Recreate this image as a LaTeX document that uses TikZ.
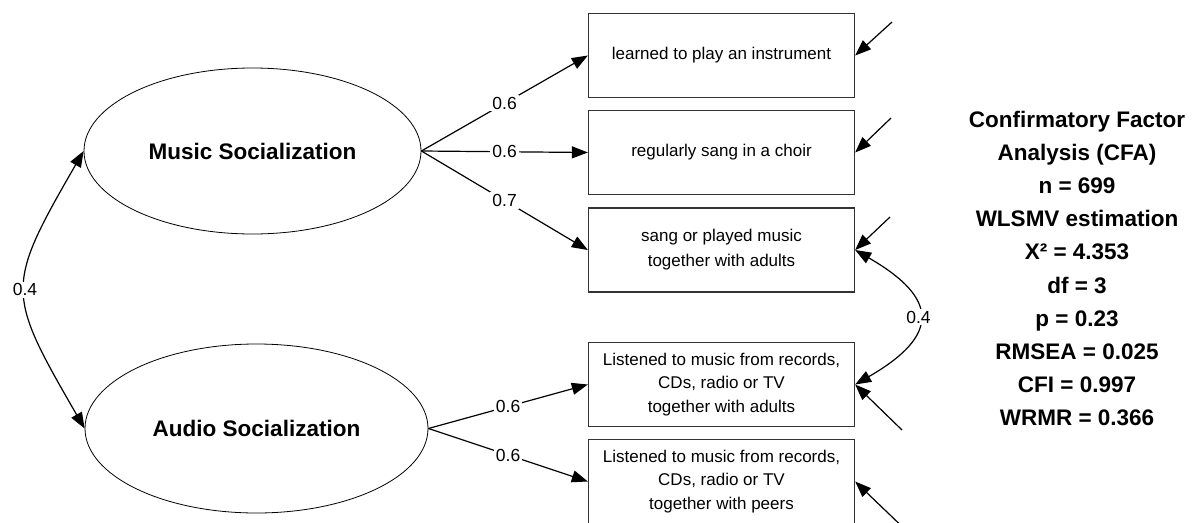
\documentclass[tikz,border=0pt]{standalone}
\usepackage{fontspec}
\setmainfont{Liberation Sans}
\usetikzlibrary{shapes.geometric,arrows.meta}
\newcommand{\itemfont}{\fontsize{17}{23.5}\selectfont}
\newcommand{\headfont}{\fontsize{22.5}{33.1}\selectfont\bfseries}

\begin{document}
\begin{tikzpicture}[x=1pt, y=1pt,
	>={Triangle[length=16pt,width=12pt]},
	latent/.style={ellipse, draw, line width=0.8pt, inner sep=0pt, font=\headfont},
	item/.style={rectangle, draw=black!80, line width=1.3pt,
		minimum width=266pt, minimum height=84pt, align=center, font=\itemfont},
	load/.style={->, line width=1.2pt},
	coef/.style={fill=white, inner sep=2pt, font=\fontsize{17.5}{20}\selectfont}]
	\useasboundingbox (0,0) rectangle (1196,-522);
	% latent factors
	\node [latent, minimum width=337pt, minimum height=166pt] (1) at (252.5,-151)
		{Music Socialization};
	\node [latent, minimum width=343pt, minimum height=169pt] (2) at (256.5,-428.5)
		{Audio Socialization};
	% indicators
	\node [item] (3) at (721.5,-55.5)
		{learned to play an instrument};
	\node [item] (4) at (721.5,-152.5)
		{regularly sang in a choir};
	\node [item, font=\fontsize{17}{25}\selectfont] (5) at (721.5,-250)
		{sang or played music\\ together with adults};
	\node [item] (6) at (721.5,-384.5)
		{Listened to music from records,\\ CDs, radio or TV\\ together with adults};
	\node [item] (7) at (721.5,-481.5)
		{Listened to music from records,\\ CDs, radio or TV\\ together with peers};
	% fit statistics
	\node [align=center, font=\headfont] (8) at (1077,-268.5)
		{Confirmatory Factor\\ Analysis (CFA)\\ n = 699\\ WLSMV estimation\\
		 X² = 4.353\\ df = 3\\ p = 0.23\\ RMSEA = 0.025\\ CFI = 0.997\\ WRMR = 0.366};
	% residuals
	\coordinate (e3) at (892,-22);
	\coordinate (e4) at (891,-118);
	\coordinate (e5) at (890,-217);
	\coordinate (e6) at (902,-430);
	\coordinate (e7) at (912,-536);
	% loadings
	\draw [load] (1.east) -- node [coef] {0.6} (3.west);
	\draw [load] (1.east) -- node [coef] {0.6} (4.west);
	\draw [load] (1.east) -- node [coef] {0.7} (5.west);
	\draw [load] (2.east) -- node [coef] {0.6} (6.west);
	\draw [load] (2.east) -- node [coef] {0.6} (7.west);
	% error terms
	\foreach \i in {3,...,7}
		\draw [load] (e\i) -- (\i.east);
	% covariances
	\draw [load, <->] (1.west) to [out=240, in=120, looseness=1.45]
		node [coef] {0.4} (2.west);
	\draw [load, <->] (5.east) to [out=-30, in=30, looseness=1.86]
		node [coef] {0.4} (6.east);
\end{tikzpicture}
\end{document}
